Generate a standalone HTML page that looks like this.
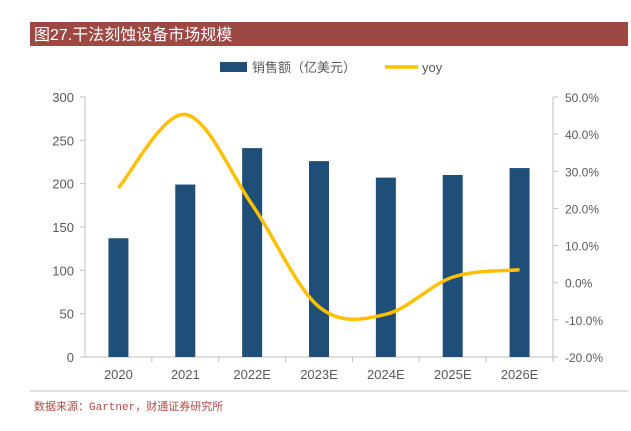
<!DOCTYPE html>
<html><head><meta charset="utf-8"><style>
body{margin:0;width:631px;height:426px;background:#fff;overflow:hidden;font-family:"Liberation Sans","Noto Sans CJK SC",sans-serif}
</style></head><body>
<svg width="631" height="426" xmlns="http://www.w3.org/2000/svg">
<rect x="30" y="22" width="598" height="24" fill="#9c4843"/>
<text x="34" y="40" fill="#fff" font-size="16" font-family="Liberation Sans,Noto Sans CJK SC,sans-serif">图27.干法刻蚀设备市场规模</text>
<g id="legend">
<rect x="220" y="62" width="27" height="10" fill="#1f4e79"/>
<text x="252" y="72" font-size="13" fill="#595959">销售额（亿美元）</text>
<line x1="385" y1="67" x2="418" y2="67" stroke="#ffc000" stroke-width="3.5"/>
<text x="422" y="72" font-size="13" fill="#595959">yoy</text>
</g>
<line x1="30" y1="391" x2="628" y2="391" stroke="#bfbfbf"/>
<text x="34" y="410" font-size="11" fill="#b04a44" font-family="Liberation Mono,Noto Sans CJK SC,monospace">数据来源：Gartner，财通证券研究所</text>
<g id="plot"></g>
</svg>
<script>
const categories=["2020","2021","2022E","2023E","2024E","2025E","2026E"];
const sales=[137,199,241,226,207,210,218];
const yoy=[25.5,45.3,21,-6.5,-8.5,1.5,3.5];
const leftTicks=[0,50,100,150,200,250,300];
const rightTicks=[-20,-10,0,10,20,30,40,50];
const NS="http://www.w3.org/2000/svg";
const g=document.getElementById('plot');
const X0=85,X1=553,Y0=357,Y1=97;
const bw=(X1-X0)/categories.length;
const xc=i=>X0+bw*(i+0.5);
const yl=v=>Y0-(v/300)*(Y0-Y1);
const yr=v=>Y0-((v+20)/70)*(Y0-Y1);
function mk(t,a){const e=document.createElementNS(NS,t);for(const k in a)e.setAttribute(k,a[k]);g.appendChild(e);return e;}
let ax=mk('line',{x1:X0,y1:Y1,x2:X0,y2:Y0,stroke:'#bfbfbf'});

let ax2=mk('line',{x1:X1,y1:Y1,x2:X1,y2:Y0,stroke:'#bfbfbf'});

let ax3=mk('line',{x1:X0,y1:Y0,x2:X1,y2:Y0,stroke:'#bfbfbf'});

leftTicks.forEach(v=>{
 const tk=mk('line',{x1:X0-5,y1:yl(v),x2:X0,y2:yl(v),stroke:'#bfbfbf'});
 
 const t=mk('text',{x:X0-11,y:yl(v)+5,'text-anchor':'end','font-size':13,fill:'#595959'});t.textContent=v;
 
});
rightTicks.forEach(v=>{
 const tk=mk('line',{x1:X1,y1:yr(v),x2:X1+5,y2:yr(v),stroke:'#bfbfbf'});
 
 const t=mk('text',{x:X1+12,y:yr(v)+5,'font-size':12,fill:'#595959'});t.textContent=v.toFixed(1)+'%';
 
});
categories.forEach((c,i)=>{
 const tk=mk('line',{x1:X0+bw*(i+1),y1:Y0,x2:X0+bw*(i+1),y2:Y0+5,stroke:'#bfbfbf'});
 
 const b=mk('rect',{x:xc(i)-10,y:yl(sales[i]),width:20,height:Y0-yl(sales[i]),fill:'#1f4e79'});
 
 const t=mk('text',{x:xc(i),y:Y0+22,'text-anchor':'middle','font-size':13,fill:'#595959'});t.textContent=c;
 
});
const pts=yoy.map((v,i)=>[xc(i),yr(v)]);
let d='M'+pts[0][0]+','+pts[0][1];
for(let i=0;i<pts.length-1;i++){
 const p0=pts[i-1]||pts[i],p1=pts[i],p2=pts[i+1],p3=pts[i+2]||p2,s=1/6;
 d+=' C'+(p1[0]+(p2[0]-p0[0])*s)+','+(p1[1]+(p2[1]-p0[1])*s)+' '+(p2[0]-(p3[0]-p1[0])*s)+','+(p2[1]-(p3[1]-p1[1])*s)+' '+p2[0]+','+p2[1];
}
const ln=mk('path',{d:d,fill:'none',stroke:'#ffc000','stroke-width':3.5});

</script>
</body></html>
